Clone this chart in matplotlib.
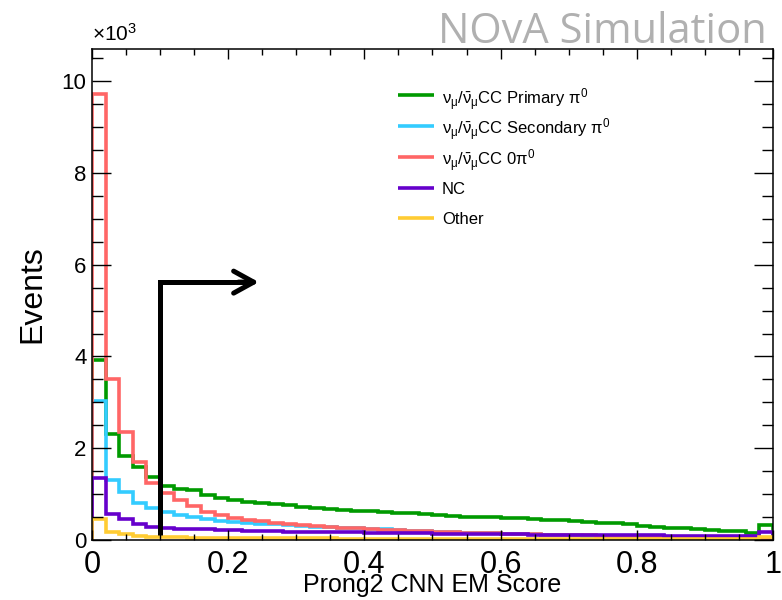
import numpy as np
import matplotlib
matplotlib.use("Agg")
import matplotlib.pyplot as plt
from matplotlib.ticker import MultipleLocator, FuncFormatter

plt.rcParams['font.family'] = ['Liberation Sans', 'DejaVu Sans']
plt.rcParams['mathtext.fontset'] = 'custom'
plt.rcParams['mathtext.rm'] = 'Liberation Sans'
plt.rcParams['mathtext.it'] = 'Liberation Sans:italic'
plt.rcParams['mathtext.bf'] = 'Liberation Sans:bold'
plt.rcParams['mathtext.default'] = 'regular'

# Prong2 CNN EM score, 50 bins of width 0.02 (events per bin)
bin_edges = np.linspace(0.0, 1.0, 51)

cc_primary_pi0 = [3930, 2300, 1830, 1590, 1370, 1170, 1120, 1080, 990, 920,
                  870, 830, 800, 780, 760, 730, 700, 680, 660, 640,
                  630, 610, 590, 580, 560, 545, 530, 510, 500, 505,
                  480, 470, 460, 440, 430, 410, 390, 375, 360, 340,
                  300, 285, 270, 255, 240, 220, 205, 190, 160, 330]

cc_secondary_pi0 = [3030, 1300, 1040, 800, 700, 600, 550, 500, 460, 410,
                    390, 370, 355, 340, 320, 305, 290, 275, 265, 255,
                    245, 230, 215, 200, 190, 180, 170, 160, 150, 145,
                    140, 130, 122, 115, 108, 100, 95, 90, 85, 80,
                    76, 72, 68, 64, 60, 56, 52, 48, 44, 35]

cc_0pi0 = [9710, 3500, 2350, 1700, 1240, 1020, 870, 740, 620, 540,
           480, 440, 410, 380, 350, 330, 310, 290, 270, 255,
           240, 225, 210, 200, 190, 180, 170, 160, 150, 145,
           140, 132, 125, 118, 112, 106, 100, 95, 90, 85,
           80, 76, 72, 68, 64, 60, 56, 52, 48, 25]

nc = [1350, 570, 450, 340, 290, 260, 250, 240, 230, 220,
      210, 200, 192, 188, 184, 180, 176, 172, 168, 164,
      160, 156, 152, 148, 144, 140, 136, 132, 128, 125,
      122, 120, 118, 115, 112, 110, 108, 106, 104, 102,
      100, 99, 98, 97, 96, 95, 94, 93, 92, 180]

other = [460, 170, 120, 90, 75, 65, 58, 52, 48, 45,
         42, 40, 38, 37, 36, 35, 34, 33, 32, 31,
         30, 30, 30, 30, 30, 30, 30, 30, 30, 30,
         30, 30, 30, 30, 30, 30, 30, 30, 30, 30,
         30, 30, 30, 30, 30, 30, 30, 30, 30, 70]

labels = [r'$\nu_{\mu}/\bar{\nu}_{\mu}$CC Primary $\pi^{0}$',
          r'$\nu_{\mu}/\bar{\nu}_{\mu}$CC Secondary $\pi^{0}$',
          r'$\nu_{\mu}/\bar{\nu}_{\mu}$CC 0$\pi^{0}$',
          'NC',
          'Other']
colors = ['#009a00', '#33ccff', '#ff6666', '#6600cc', '#ffcc33']

# cut position and arrow
cut_x = 0.1
arrow_y = 5620
arrow_bottom = 100
arrow_tip = 0.245

fig = plt.figure(figsize=(7.82, 6.0), dpi=100)
ax = fig.add_axes([0.1176, 0.10, 0.8709, 0.8183])

series = [cc_primary_pi0, cc_secondary_pi0, cc_0pi0, nc, other]
for vals, col in zip(series, colors):
    ax.stairs(vals, bin_edges, color=col, lw=2.6)

ax.plot([cut_x, cut_x, arrow_tip - 0.02], [arrow_bottom, arrow_y, arrow_y],
        color='black', lw=3.6, solid_joinstyle='miter', solid_capstyle='butt')
ax.annotate('', xy=(arrow_tip, arrow_y), xytext=(arrow_tip - 0.03, arrow_y),
            arrowprops=dict(arrowstyle='->,head_length=0.4,head_width=0.22',
                            lw=3.6, color='black', mutation_scale=36,
                            shrinkA=0, shrinkB=0))

# ROOT-style legend: evenly spaced rows, no frame
leg_top = 0.906
leg_step = 0.0627
for i, (lab, col) in enumerate(zip(labels, colors)):
    yy = leg_top - i * leg_step
    ax.plot([0.449, 0.502], [yy, yy], transform=ax.transAxes, color=col, lw=2.6,
            solid_capstyle='butt')
    ax.text(0.514, yy, lab, transform=ax.transAxes, ha='left', va='center_baseline',
            fontsize=12)

ax.set_xlim(0, 1)
ax.set_ylim(0, 10700)

ax.xaxis.set_major_locator(MultipleLocator(0.2))
ax.xaxis.set_minor_locator(MultipleLocator(0.05))
ax.yaxis.set_major_locator(MultipleLocator(2000))
ax.yaxis.set_minor_locator(MultipleLocator(500))
ax.xaxis.set_major_formatter(FuncFormatter(lambda v, p: f'{v:g}'))
ax.yaxis.set_major_formatter(FuncFormatter(lambda v, p: f'{v / 1000:g}'))

ax.tick_params(axis='both', which='both', direction='in', top=True, right=True, width=1.0)
ax.tick_params(axis='x', which='major', length=7.5, pad=7, labelsize=22)
ax.tick_params(axis='x', which='minor', length=4.5)
ax.tick_params(axis='y', which='major', length=14, pad=4, labelsize=16)
ax.tick_params(axis='y', which='minor', length=8)
for sp in ax.spines.values():
    sp.set_linewidth(1.1)

ax.set_xlabel('Prong2 CNN EM Score', fontsize=18)
ax.xaxis.set_label_coords(0.5, -0.068)
ax.set_ylabel('Events', fontsize=23)
ax.yaxis.set_label_coords(-0.066, 0.5)

ax.text(0.0, 1.008, r'$\times$10$^{3}$', transform=ax.transAxes,
        ha='left', va='bottom', fontsize=15)
fig.text(0.981, 1 - 43 / 600, 'NOvA Simulation', ha='right', va='baseline',
         fontsize=30, color='#b0b0b0', family=['Open Sans', 'DejaVu Sans'])

fig.savefig('out.png', dpi=100)
